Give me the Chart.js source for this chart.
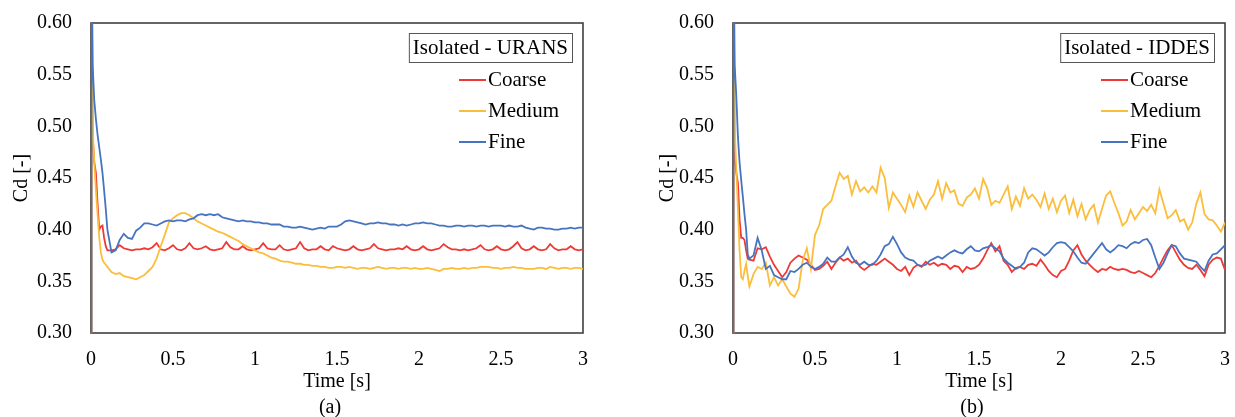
<!DOCTYPE html>
<html>
<head>
<meta charset="utf-8">
<script src="https://cdn.jsdelivr.net/npm/chart.js@4.4.1/dist/chart.umd.min.js"></script>
<style>
  html, body { margin: 0; padding: 0; background: #fff; }
  #wrap { position: relative; width: 1235px; height: 417px; }
  .box { position: absolute; top: 0; height: 417px; }
</style>
</head>
<body>
<div id="wrap">
  <div class="box" style="left:0;width:600px"><canvas id="chartA"></canvas></div>
  <div class="box" style="left:646px;width:596px"><canvas id="chartB"></canvas></div>
</div>
<script>
// time grid [s], shared by every series
const TIME = [
  0, 0.003, 0.01, 0.02, 0.03, 0.04, 0.05, 0.06, 0.07, 0.08, 0.09, 0.1,
  0.125, 0.15, 0.175, 0.2, 0.225, 0.25, 0.275, 0.3,
  0.325, 0.35, 0.375, 0.4, 0.425, 0.45, 0.475, 0.5,
  0.525, 0.55, 0.575, 0.6, 0.625, 0.65, 0.675, 0.7,
  0.725, 0.75, 0.775, 0.8, 0.825, 0.85, 0.875, 0.9,
  0.925, 0.95, 0.975, 1.0, 1.025, 1.05, 1.075, 1.1,
  1.125, 1.15, 1.175, 1.2, 1.225, 1.25, 1.275, 1.3,
  1.325, 1.35, 1.375, 1.4, 1.425, 1.45, 1.475, 1.5,
  1.525, 1.55, 1.575, 1.6, 1.625, 1.65, 1.675, 1.7,
  1.725, 1.75, 1.775, 1.8, 1.825, 1.85, 1.875, 1.9,
  1.925, 1.95, 1.975, 2.0, 2.025, 2.05, 2.075, 2.1,
  2.125, 2.15, 2.175, 2.2, 2.225, 2.25, 2.275, 2.3,
  2.325, 2.35, 2.375, 2.4, 2.425, 2.45, 2.475, 2.5,
  2.525, 2.55, 2.575, 2.6, 2.625, 2.65, 2.675, 2.7,
  2.725, 2.75, 2.775, 2.8, 2.825, 2.85, 2.875, 2.9,
  2.925, 2.95, 2.975, 3.0
];

// (a) Isolated - URANS
const URANS_COARSE = [
  0, 0.70, 0.49, 0.465, 0.455, 0.425, 0.400, 0.403, 0.404, 0.392, 0.384, 0.380,
  0.380, 0.381, 0.385, 0.382, 0.381, 0.380, 0.381, 0.381,
  0.382, 0.381, 0.383, 0.387, 0.381, 0.380, 0.382, 0.385,
  0.381, 0.380, 0.382, 0.387, 0.382, 0.381, 0.382, 0.384,
  0.381, 0.380, 0.381, 0.382, 0.388, 0.383, 0.381, 0.381,
  0.384, 0.381, 0.380, 0.381, 0.382, 0.387, 0.382, 0.381,
  0.381, 0.385, 0.381, 0.380, 0.381, 0.382, 0.388, 0.382,
  0.380, 0.381, 0.381, 0.384, 0.381, 0.380, 0.384, 0.382,
  0.381, 0.380, 0.381, 0.384, 0.381, 0.380, 0.381, 0.382,
  0.386, 0.382, 0.381, 0.380, 0.381, 0.381, 0.382, 0.381,
  0.384, 0.381, 0.380, 0.381, 0.384, 0.381, 0.380, 0.381,
  0.382, 0.386, 0.383, 0.381, 0.381, 0.380, 0.381, 0.380,
  0.381, 0.382, 0.385, 0.381, 0.380, 0.381, 0.384, 0.381,
  0.380, 0.381, 0.384, 0.388, 0.382, 0.380, 0.381, 0.384,
  0.381, 0.380, 0.381, 0.386, 0.382, 0.380, 0.381, 0.381,
  0.384, 0.381, 0.380, 0.381
];
const URANS_MEDIUM = [
  0, 0.70, 0.50, 0.465, 0.438, 0.415, 0.393, 0.378, 0.371, 0.368, 0.366, 0.364,
  0.359, 0.357, 0.358, 0.355, 0.354, 0.353, 0.352, 0.354,
  0.356, 0.360, 0.364, 0.372, 0.384, 0.395, 0.407, 0.411,
  0.414, 0.416, 0.416, 0.414, 0.411, 0.408, 0.406, 0.404,
  0.402, 0.400, 0.398, 0.397, 0.395, 0.393, 0.391, 0.389,
  0.386, 0.384, 0.382, 0.380, 0.378, 0.377, 0.375, 0.373,
  0.372, 0.370, 0.369, 0.369, 0.368, 0.367, 0.367, 0.366,
  0.366, 0.365, 0.365, 0.364, 0.364, 0.363, 0.363, 0.364,
  0.364, 0.363, 0.364, 0.363, 0.362, 0.363, 0.363, 0.362,
  0.363, 0.364, 0.363, 0.362, 0.363, 0.363, 0.362, 0.363,
  0.363, 0.362, 0.363, 0.362, 0.362, 0.363, 0.362, 0.361,
  0.360, 0.362, 0.362, 0.363, 0.362, 0.362, 0.363, 0.362,
  0.363, 0.363, 0.364, 0.364, 0.364, 0.363, 0.363, 0.362,
  0.363, 0.363, 0.364, 0.363, 0.363, 0.362, 0.362, 0.362,
  0.363, 0.363, 0.362, 0.364, 0.363, 0.362, 0.363, 0.363,
  0.362, 0.363, 0.363, 0.362
];
const URANS_FINE = [
  0, 0.70, 0.56, 0.525, 0.507, 0.492, 0.480, 0.468, 0.455, 0.438, 0.420, 0.400,
  0.378, 0.380, 0.390, 0.396, 0.392, 0.391, 0.399, 0.402,
  0.406, 0.406, 0.405, 0.404, 0.406, 0.408, 0.409, 0.408,
  0.409, 0.409, 0.408, 0.410, 0.411, 0.414, 0.415, 0.414,
  0.415, 0.414, 0.415, 0.412, 0.411, 0.410, 0.409, 0.408,
  0.409, 0.408, 0.408, 0.407, 0.407, 0.406, 0.406, 0.405,
  0.405, 0.405, 0.403, 0.403, 0.402, 0.402, 0.403, 0.402,
  0.401, 0.400, 0.401, 0.402, 0.401, 0.403, 0.403, 0.403,
  0.405, 0.408, 0.409, 0.408, 0.407, 0.406, 0.405, 0.406,
  0.406, 0.407, 0.406, 0.406, 0.405, 0.405, 0.404, 0.405,
  0.404, 0.405, 0.406, 0.406, 0.407, 0.406, 0.406, 0.405,
  0.404, 0.404, 0.403, 0.403, 0.404, 0.404, 0.403, 0.404,
  0.404, 0.403, 0.404, 0.404, 0.403, 0.404, 0.404, 0.404,
  0.403, 0.404, 0.403, 0.403, 0.404, 0.402, 0.401, 0.400,
  0.402, 0.402, 0.401, 0.401, 0.400, 0.400, 0.401, 0.401,
  0.402, 0.401, 0.402, 0.402
];

// (b) Isolated - IDDES
const IDDES_COARSE = [
  0, 0.70, 0.47, 0.455, 0.445, 0.410, 0.392, 0.392, 0.390, 0.380, 0.372, 0.371,
  0.370, 0.382, 0.381, 0.383, 0.374, 0.366, 0.360, 0.354,
  0.359, 0.368, 0.372, 0.375, 0.373, 0.371, 0.366, 0.361,
  0.362, 0.365, 0.369, 0.362, 0.368, 0.373, 0.370, 0.372,
  0.368, 0.370, 0.364, 0.361, 0.364, 0.367, 0.366, 0.369,
  0.372, 0.369, 0.366, 0.362, 0.360, 0.364, 0.356, 0.363,
  0.366, 0.364, 0.369, 0.366, 0.368, 0.365, 0.367, 0.366,
  0.362, 0.365, 0.364, 0.359, 0.364, 0.362, 0.363, 0.366,
  0.372, 0.380, 0.387, 0.379, 0.384, 0.370, 0.366, 0.359,
  0.363, 0.364, 0.362, 0.366, 0.367, 0.365, 0.371, 0.366,
  0.360, 0.356, 0.354, 0.360, 0.362, 0.370, 0.380, 0.385,
  0.376, 0.370, 0.366, 0.362, 0.359, 0.362, 0.361, 0.364,
  0.362, 0.361, 0.362, 0.361, 0.359, 0.358, 0.360, 0.358,
  0.356, 0.354, 0.358, 0.365, 0.373, 0.380, 0.385, 0.378,
  0.371, 0.366, 0.363, 0.362, 0.366, 0.361, 0.355, 0.366,
  0.371, 0.373, 0.372, 0.361
];
const IDDES_MEDIUM = [
  0, 0.70, 0.50, 0.46, 0.42, 0.38, 0.354, 0.352, 0.360, 0.367, 0.355, 0.345,
  0.357, 0.364, 0.362, 0.368, 0.346, 0.354, 0.346, 0.352,
  0.345, 0.338, 0.335, 0.343, 0.370, 0.382, 0.362, 0.395,
  0.404, 0.420, 0.424, 0.428, 0.442, 0.455, 0.449, 0.452,
  0.434, 0.447, 0.437, 0.441, 0.436, 0.442, 0.436, 0.460,
  0.450, 0.421, 0.436, 0.430, 0.424, 0.417, 0.433, 0.422,
  0.436, 0.428, 0.420, 0.429, 0.434, 0.447, 0.430, 0.445,
  0.436, 0.438, 0.425, 0.423, 0.431, 0.434, 0.440, 0.430,
  0.449, 0.440, 0.424, 0.428, 0.426, 0.434, 0.442, 0.420,
  0.432, 0.423, 0.440, 0.430, 0.434, 0.429, 0.422, 0.435,
  0.420, 0.430, 0.417, 0.428, 0.433, 0.416, 0.429, 0.413,
  0.425, 0.410, 0.419, 0.424, 0.407, 0.420, 0.433, 0.437,
  0.426, 0.416, 0.404, 0.408, 0.419, 0.410, 0.416, 0.422,
  0.418, 0.424, 0.416, 0.439, 0.425, 0.411, 0.414, 0.419,
  0.408, 0.410, 0.400, 0.407, 0.425, 0.436, 0.415, 0.410,
  0.409, 0.404, 0.398, 0.407
];
const IDDES_FINE = [
  0, 0.70, 0.56, 0.53, 0.49, 0.465, 0.448, 0.432, 0.415, 0.400, 0.376, 0.372,
  0.375, 0.392, 0.380, 0.362, 0.365, 0.356, 0.354, 0.352,
  0.352, 0.360, 0.359, 0.362, 0.366, 0.368, 0.364, 0.362,
  0.364, 0.367, 0.373, 0.369, 0.369, 0.373, 0.376, 0.383,
  0.374, 0.368, 0.366, 0.369, 0.366, 0.366, 0.370, 0.376,
  0.384, 0.386, 0.393, 0.386, 0.378, 0.373, 0.371, 0.370,
  0.366, 0.365, 0.366, 0.370, 0.372, 0.374, 0.372, 0.375,
  0.378, 0.380, 0.378, 0.377, 0.381, 0.384, 0.380, 0.379,
  0.382, 0.383, 0.385, 0.382, 0.379, 0.372, 0.368, 0.365,
  0.362, 0.364, 0.368, 0.378, 0.382, 0.381, 0.378, 0.375,
  0.378, 0.383, 0.387, 0.388, 0.387, 0.383, 0.379, 0.373,
  0.368, 0.367, 0.372, 0.377, 0.382, 0.387, 0.381, 0.378,
  0.381, 0.385, 0.384, 0.382, 0.386, 0.388, 0.387, 0.390,
  0.391, 0.385, 0.373, 0.362, 0.368, 0.377, 0.385, 0.384,
  0.377, 0.372, 0.371, 0.370, 0.369, 0.364, 0.360, 0.370,
  0.376, 0.377, 0.381, 0.385
];

const SERIES_NAMES = ['Coarse', 'Medium', 'Fine'];
const COLORS = ['#ee3a36', '#fbbe3c', '#4674c0'];

Chart.defaults.font.family = '"Liberation Serif", "Times New Roman", serif';
Chart.defaults.font.size = 20;
Chart.defaults.color = '#000';

const pts = vals => vals.map((v, i) => ({ x: TIME[i], y: v }));

// plot frame, legend box and caption, Excel style
const decor = {
    id: 'decor',
    beforeDatasetsDraw(chart) {
        const { ctx, chartArea: a } = chart;
        ctx.save();
        ctx.strokeStyle = '#404040';
        ctx.lineWidth = 1.6;
        ctx.strokeRect(a.left, a.top, a.right - a.left, a.bottom - a.top);
        ctx.restore();
    },
    afterDraw(chart, args, opts) {
        const { ctx, chartArea: a } = chart;
        ctx.save();
        ctx.font = '21px "Liberation Serif", serif';
        ctx.textBaseline = 'middle';
        ctx.fillStyle = '#000';

        const tw = ctx.measureText(opts.title).width;
        const bx1 = a.right - 11, bx0 = bx1 - tw - 8, by0 = a.top + 10;
        ctx.strokeStyle = '#555';
        ctx.lineWidth = 1;
        ctx.strokeRect(bx0 + 0.5, by0 + 0.5, bx1 - bx0, 29);
        ctx.fillText(opts.title, bx0 + 4, by0 + 15);

        const lx = a.right - 124;
        chart.data.datasets.forEach((ds, i) => {
            const y = a.top + 57 + i * 31;
            ctx.strokeStyle = ds.borderColor;
            ctx.lineWidth = 2;
            ctx.beginPath();
            ctx.moveTo(lx, y);
            ctx.lineTo(lx + 27, y);
            ctx.stroke();
            ctx.fillText(ds.label, lx + 29, y);
        });

        ctx.font = '20px "Liberation Serif", serif';
        ctx.textAlign = 'center';
        ctx.fillText(opts.caption, (a.left + a.right) / 2 - 7, 408);
        ctx.restore();
    }
};

function makeChart(id, title, caption, series, axisWidth) {
    return new Chart(document.getElementById(id), {
        type: 'line',
        data: {
            datasets: series.map((vals, i) => ({
                label: SERIES_NAMES[i],
                data: pts(vals),
                borderColor: COLORS[i],
                borderWidth: 1.8,
                pointRadius: 0,
                tension: 0,
                order: 2 - i
            }))
        },
        options: {
            responsive: true,
            maintainAspectRatio: false,
            animation: false,
            layout: { padding: { left: 0, right: 17, top: 23, bottom: 0 } },
            plugins: {
                legend: { display: false },
                tooltip: { enabled: false },
                decor: { title: title, caption: caption }
            },
            scales: {
                x: {
                    type: 'linear',
                    min: 0,
                    max: 3,
                    grid: { display: false, drawTicks: false },
                    border: { display: false },
                    ticks: { stepSize: 0.5, padding: 15, maxRotation: 0,
                             callback: v => String(+v.toFixed(1)) },
                    title: { display: true, text: 'Time [s]', padding: { top: 0, bottom: 23 } },
                    afterFit: s => { s.height = 84; s.paddingLeft = 0; s.paddingRight = 0; }
                },
                y: {
                    min: 0.3,
                    max: 0.6,
                    grid: { display: false, drawTicks: false },
                    border: { display: false },
                    ticks: { stepSize: 0.05, padding: 19, callback: v => v.toFixed(2) },
                    title: { display: true, text: 'Cd [-]', padding: { top: 10, bottom: 0 } },
                    afterFit: s => { s.width = axisWidth; s.paddingTop = 0; s.paddingBottom = 0; }
                }
            }
        },
        plugins: [decor]
    });
}

makeChart('chartA', 'Isolated - URANS', '(a)', [URANS_COARSE, URANS_MEDIUM, URANS_FINE], 91);
makeChart('chartB', 'Isolated - IDDES', '(b)', [IDDES_COARSE, IDDES_MEDIUM, IDDES_FINE], 87);
</script>
</body>
</html>
